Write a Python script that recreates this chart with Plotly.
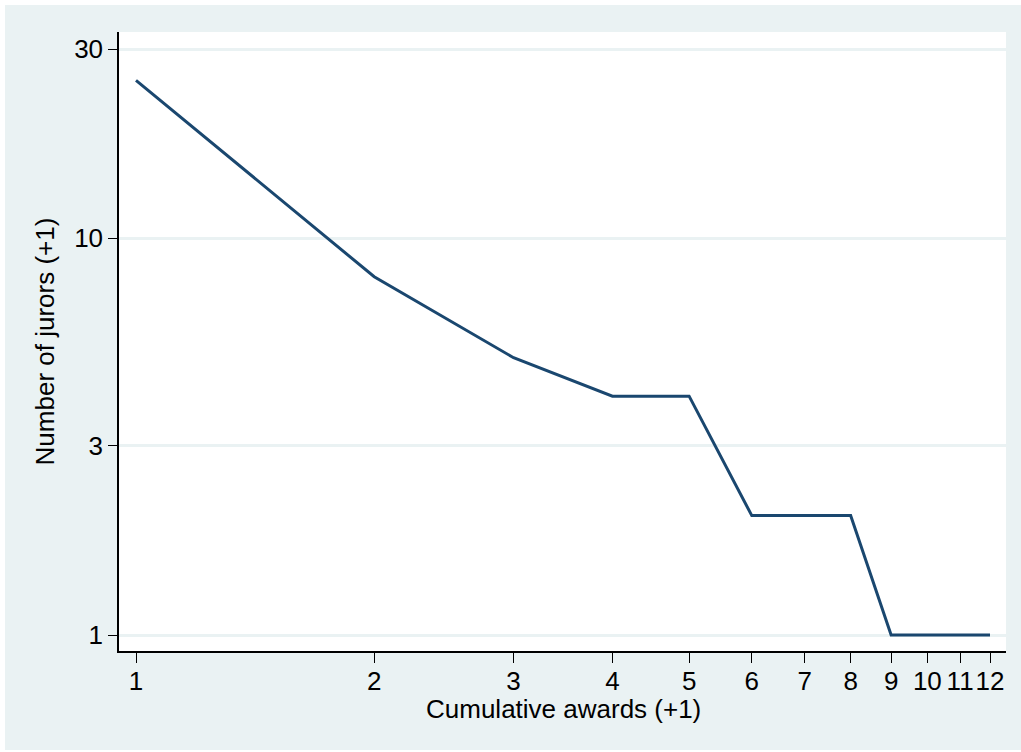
import plotly.graph_objects as go
import math

awards = [1, 2, 3, 4, 5, 6, 7, 8, 9, 10, 11, 12]
jurors = [25, 8, 5, 4, 4, 2, 2, 2, 1, 1, 1, 1]
x_ticks = [1, 2, 3, 4, 5, 6, 7, 8, 9, 10, 11, 12]
y_ticks = [1, 3, 10, 30]

BG = "#EAF2F3"
LINE = "#1A476F"
FONT = "Liberation Sans, Arial, sans-serif"
FS = 26

fig = go.Figure()
fig.add_trace(go.Scatter(x=awards, y=jurors, mode="lines",
                         line=dict(color=LINE, width=3), showlegend=False))

fig.update_layout(
    width=1021, height=752,
    margin=dict(l=119, r=15, t=32, b=101),
    paper_bgcolor="white",
    plot_bgcolor="white",
    font=dict(family=FONT, size=FS, color="black"),
    shapes=[
        dict(type="rect", xref="paper", yref="paper",
             x0=(5 - 119) / 887, x1=(1021 - 119) / 887,
             y0=(651 - 750) / 619, y1=(651 - 5) / 619,
             fillcolor=BG, line=dict(width=0), layer="below"),
        dict(type="rect", xref="paper", yref="paper",
             x0=0, x1=1, y0=0, y1=1,
             fillcolor="white", line=dict(width=0), layer="below"),
    ],
    annotations=[
        dict(text="Cumulative awards (+1)", xref="paper", yref="paper",
             x=(563.5 - 119) / 887, y=(651 - 709) / 619,
             xanchor="center", yanchor="middle", showarrow=False,
             font=dict(size=FS, family=FONT, color="black")),
    ],
)

fig.update_xaxes(
    type="log",
    range=[-17 / 791.3, math.log10(12) + 16 / 791.3],
    tickvals=x_ticks, ticktext=[str(v) for v in x_ticks],
    tickangle=0,
    ticks="outside", ticklen=10, tickwidth=1, tickcolor="black",
    showline=True, linecolor="black", linewidth=1.5,
    showgrid=False, zeroline=False,
    tickfont=dict(size=FS),
    ticklabelstandoff=-4,
)
fig.update_yaxes(
    type="log",
    range=[-16 / 396.7, math.log10(30) + 17 / 396.7],
    tickvals=y_ticks, ticktext=[str(v) for v in y_ticks],
    tickangle=0,
    ticks="outside", ticklen=9, tickwidth=1, tickcolor="black",
    showline=True, linecolor="black", linewidth=1.5,
    showgrid=True, gridcolor=BG, gridwidth=2.5, zeroline=False,
    tickfont=dict(size=FS),
    title=dict(text="Number of jurors (+1)", font=dict(size=FS), standoff=12),
)

fig.write_html("out.html", config={"displayModeBar": False},
               post_script="document.body.style.margin='0';")
